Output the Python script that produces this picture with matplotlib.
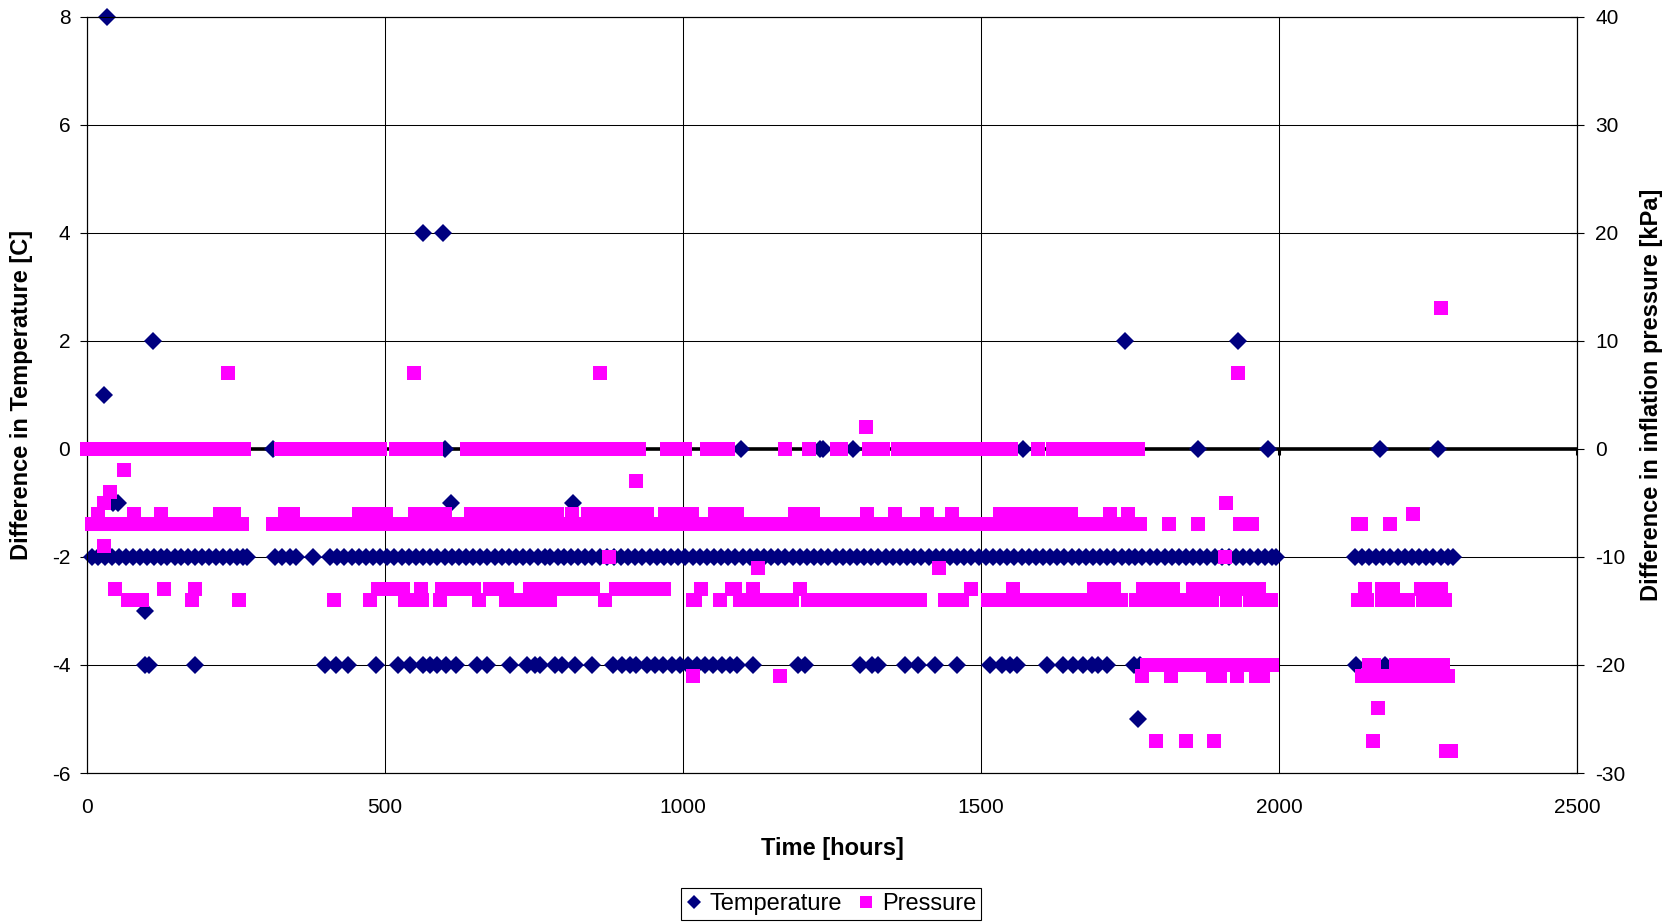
import numpy as np
import matplotlib as mpl
import matplotlib.pyplot as plt

plt.rcParams['font.family'] = ['Liberation Sans', 'DejaVu Sans']
mpl.rcParams['axes.linewidth'] = 0.8
mpl.rcParams['axes.unicode_minus'] = False

# ---- Temperature difference [C] : hours at each level ----
temp_m2_t = [8, 19, 31, 42, 54, 65, 77, 89, 100, 112, 124, 135, 147, 158, 170, 182, 193, 205,
             217, 228, 240, 251, 262, 268,
             316, 328, 340, 351, 379,
             408, 420, 432, 444, 456, 468, 480, 492, 504, 516, 528, 540, 552, 564, 576, 588,
             600, 612, 624, 636, 648, 660, 672, 684, 696, 708, 720, 732, 744, 756, 768, 777,
             790, 800, 812, 824, 836, 848, 860, 872, 884, 896, 908, 920, 932, 944, 956, 968,
             980, 992, 1004, 1016, 1028, 1040, 1052, 1064, 1076, 1088, 1100, 1112, 1124, 1136,
             1148, 1160, 1172, 1184, 1196, 1208, 1220, 1232, 1244, 1256, 1268, 1280, 1292,
             1304, 1316, 1328, 1340, 1352, 1364, 1376, 1388, 1400, 1412, 1424, 1436, 1448,
             1460, 1472, 1484, 1496, 1508, 1520, 1532, 1544, 1556, 1568, 1580, 1592, 1604,
             1616, 1628, 1640, 1652, 1664, 1676, 1688, 1700, 1712, 1724, 1736, 1748, 1758,
             1770, 1784, 1796, 1808, 1820, 1832, 1844, 1856, 1868, 1880, 1892, 1904, 1916,
             1928, 1940, 1952, 1964, 1976, 1988, 1995,
             2127, 2139, 2151, 2163, 2175, 2187, 2199, 2211, 2223, 2235, 2247, 2259, 2271,
             2283, 2292]
temp_m4_t = [97, 104, 181, 399, 418, 438, 485, 522, 542, 564, 576, 587, 603, 620, 654, 672,
             710, 738, 752, 760, 785, 797, 819, 847, 883, 897, 911, 922, 939, 953, 967, 981,
             995, 1009, 1023, 1037, 1051, 1065, 1079, 1090, 1118, 1193, 1205, 1297, 1317,
             1328, 1372, 1395, 1423, 1459, 1515, 1535, 1549, 1560, 1610, 1638, 1655, 1672,
             1686, 1697, 1711, 1756, 1766, 2130, 2178]
temp_0_t = [313, 600, 1097, 1230, 1235, 1285, 1571, 1864, 1982, 2170, 2267]
temp_odd_t = [33, 29, 111, 564, 597, 44, 52, 611, 816, 97, 1764, 1741, 1932]
temp_odd_v = [8, 1, 2, 4, 4, -1, -1, -1, -1, -3, -5, 2, 2]

# ---- Pressure difference [kPa] : hours at each level ----
pres_0_t = [0, 12, 24, 36, 48, 60, 72, 84, 96, 108, 120, 132, 144, 156, 168, 180, 192, 204,
            216, 228, 240, 252, 263,
            326, 338, 350, 362, 374, 386, 398, 410, 422, 434, 446, 458, 470, 482, 492,
            519, 531, 543, 555, 567, 579, 586,
            637, 649, 661, 673, 687, 699, 711, 723, 735, 748, 760, 772, 783, 795, 807, 819,
            831, 843, 855, 867, 879, 891, 903, 915, 927,
            974, 986, 998, 1003, 1041, 1053, 1065, 1076, 1172, 1212, 1259, 1265, 1312, 1336,
            1361, 1373, 1385, 1397, 1409, 1421, 1433, 1445, 1457, 1469, 1481, 1493, 1505,
            1517, 1529, 1541, 1550, 1596,
            1620, 1632, 1644, 1656, 1668, 1680, 1692, 1704, 1716, 1728, 1740, 1752, 1764]
pres_m6_t = [18, 79, 124, 224, 236, 247, 332, 346, 457, 469, 481, 493, 502, 551, 563, 575,
             587, 601, 645, 657, 669, 681, 693, 705, 717, 729, 741, 753, 765, 777, 788, 814,
             841, 853, 865, 877, 889, 901, 913, 925, 940, 970, 982, 994, 1006, 1015, 1053,
             1077, 1091, 1188, 1203, 1218, 1308, 1356, 1410, 1452, 1532, 1544, 1556, 1568,
             1580, 1592, 1604, 1616, 1628, 1640, 1651, 1716, 1746, 2224]
pres_m7_t = [8, 20, 32, 44, 56, 68, 80, 92, 104, 116, 128, 140, 152, 164, 176, 188, 200, 212,
             224, 236, 248, 261,
             312, 324, 336, 348, 360, 372, 384, 396, 408, 420, 432, 444, 456, 468, 480, 492,
             504, 516, 528, 540, 552, 564, 576, 588, 600, 612, 624, 636, 648, 660, 672, 684,
             696, 708, 720, 732, 744, 756, 768, 780, 792, 804, 816, 828, 840, 852, 864, 876,
             888, 900, 912, 924, 936, 948, 960, 972, 984, 996, 1008, 1020, 1032, 1044, 1056,
             1068, 1080, 1092, 1104, 1116, 1128, 1140, 1152, 1164, 1176, 1188, 1200, 1212,
             1224, 1236, 1248, 1260, 1272, 1284, 1296, 1308, 1320, 1332, 1344, 1356, 1368,
             1380, 1392, 1404, 1416, 1428, 1440, 1452, 1464, 1476, 1488, 1500, 1512, 1524,
             1536, 1548, 1560, 1572, 1584, 1596, 1608, 1620, 1632, 1644, 1656, 1668, 1680,
             1692, 1704, 1716, 1728, 1740, 1752, 1766,
             1815, 1864, 1935, 1945, 1955, 2132, 2138, 2186]
pres_m13_t = [47, 129, 182, 488, 500, 512, 524, 531, 561, 596, 608, 620, 632, 644, 650, 676,
              688, 700, 705, 744, 756, 768, 780, 792, 804, 816, 828, 840, 849, 888, 900, 912,
              924, 936, 948, 960, 968, 1030, 1082, 1088, 1118, 1196, 1484, 1554, 1689, 1701,
              1713, 1723, 1772, 1784, 1796, 1808, 1823, 1855, 1867, 1879, 1891, 1903, 1915,
              1927, 1939, 1951, 1966, 2145, 2172, 2182, 2192, 2239, 2251, 2263, 2272]
pres_m14_t = [69, 93, 176, 255, 415, 475, 533, 545, 556, 562, 592, 657, 703, 715, 727, 739,
              751, 763, 777, 869, 1016, 1021, 1062, 1095, 1107, 1119, 1131, 1143, 1155, 1167,
              1183, 1210, 1222, 1234, 1246, 1258, 1270, 1282, 1294, 1306, 1318, 1330, 1342,
              1354, 1366, 1378, 1390, 1398, 1439, 1451, 1468, 1512, 1524, 1536, 1548, 1560,
              1572, 1584, 1596, 1608, 1620, 1632, 1644, 1656, 1668, 1680, 1692, 1704, 1716,
              1728, 1735, 1760, 1772, 1784, 1796, 1808, 1820, 1832, 1844, 1856, 1868, 1880,
              1887, 1913, 1927, 1951, 1963, 1975, 1986, 2132, 2140, 2148, 2172, 2184, 2196,
              2208, 2217, 2242, 2254, 2266, 2278]
pres_m20_t = [1778, 1790, 1802, 1814, 1826, 1838, 1850, 1862, 1874, 1886, 1898, 1910, 1922,
              1934, 1946, 1958, 1970, 1982, 1989, 2151, 2159, 2197, 2209, 2221, 2233, 2245,
              2257, 2269, 2275]
pres_m21_t = [1017, 1163, 1770, 1818, 1889, 1901, 1930, 1961, 1974, 2139, 2149, 2160, 2183,
              2195, 2207, 2219, 2231, 2243, 2255, 2267, 2283]
pres_odd_t = [29, 28, 38, 63, 236, 548, 860, 1931, 2271, 1307, 922, 876, 1909, 1911, 1126,
              1430, 2166, 1794, 1844, 1891, 2158, 2280, 2289]
pres_odd_v = [-9, -5, -4, -2, 7, 7, 7, 7, 13, 2, -3, -10, -10, -5, -11, -11, -24, -27, -27,
              -27, -27, -28, -28]

temp_t = np.concatenate([temp_m2_t, temp_m4_t, temp_0_t, temp_odd_t])
temp_v = np.concatenate([np.full(len(temp_m2_t), -2), np.full(len(temp_m4_t), -4),
                         np.full(len(temp_0_t), 0), temp_odd_v])
pres_groups = [(pres_0_t, 0), (pres_m6_t, -6), (pres_m7_t, -7), (pres_m13_t, -13),
               (pres_m14_t, -14), (pres_m20_t, -20), (pres_m21_t, -21)]
pres_t = np.concatenate([g for g, _ in pres_groups] + [pres_odd_t])
pres_v = np.concatenate([np.full(len(g), lv) for g, lv in pres_groups] + [pres_odd_v])

fig, ax = plt.subplots(figsize=(16.75, 9.23), dpi=100)
fig.subplots_adjust(left=0.0519, right=0.9415, bottom=0.1625, top=0.9821)

x_ticks = [0, 500, 1000, 1500, 2000, 2500]
ax.set_xlim(0, 2500)
ax.set_ylim(-6, 8)
ax.set_xticks(x_ticks)
ax.set_yticks(range(-6, 9, 2))
ax.grid(True, color='k', lw=0.75, zorder=0)
ax.set_axisbelow(True)

# thick zero line (the x axis crosses here) with small ticks
ax.axhline(0, color='k', lw=2.6, zorder=2)
ax.vlines(x_ticks, -0.12, 0, color='k', lw=2.2, zorder=2)

ax.plot(temp_t, temp_v, ls='none', marker='D', ms=9.5, mew=0, color='#000080',
        label='Temperature', zorder=3, clip_on=False)

ax2 = ax.twinx()
ax2.set_ylim(-30, 40)
ax2.set_yticks(range(-30, 41, 10))
ax2.plot(pres_t, pres_v, ls='none', marker='s', ms=9.7, mew=0, color='#FF00FF',
         label='Pressure', zorder=3, clip_on=False)

ax.tick_params(axis='y', direction='out', length=5, width=0.8, pad=7, labelsize=15)
ax.tick_params(axis='x', length=0, pad=18, labelsize=15)
ax2.tick_params(axis='y', direction='inout', length=10, width=0.8, pad=8, labelsize=15)

for a in [ax, ax2]:
    for s in a.spines.values():
        s.set_color('k')
        s.set_linewidth(0.8)

ax.set_xlabel('Time [hours]', fontsize=17, fontweight='bold', va='center')
ax.xaxis.set_label_coords(0.5, -0.1)
ax.set_ylabel('Difference in Temperature [C]', fontsize=17, fontweight='bold', va='center')
ax.yaxis.set_label_coords(-0.0436, 0.5)
ax2.set_ylabel('Difference in inflation pressure [kPa]', fontsize=17, fontweight='bold',
               va='center', rotation=90)
ax2.yaxis.set_label_coords(1.05, 0.5)

h1, l1 = ax.get_legend_handles_labels()
h2, l2 = ax2.get_legend_handles_labels()
leg = fig.legend(h1 + h2, l1 + l2, loc='center', bbox_to_anchor=(0.496, 0.0206),
                 fontsize=17, ncol=2, fancybox=False, edgecolor='k', framealpha=1,
                 handlelength=0.7, handletextpad=0.3, columnspacing=0.7, borderpad=0.2)
leg.get_frame().set_linewidth(0.8)
leg.legend_handles[0].set_markersize(7.5)
leg.legend_handles[1].set_markersize(8.5)

fig.savefig('out.png', dpi=100)
